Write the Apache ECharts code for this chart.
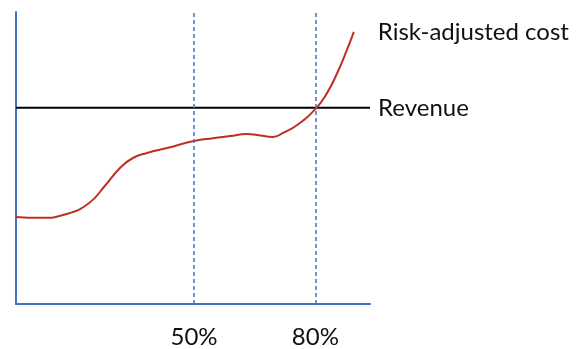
<!DOCTYPE html>
<html>
<head>
<meta charset="utf-8">
<script src="https://cdn.jsdelivr.net/npm/echarts@6/dist/echarts.min.js"></script>
<style>
  html, body { margin: 0; padding: 0; background: #fff; }
  #chart { width: 587px; height: 349px; }
</style>
</head>
<body>
<div id="chart"></div>
<script>
// share of capacity (%) along the x axis
const costX = [6, 11.9, 18.5, 24, 28, 31.7, 34.9, 38.4, 43.3, 50, 54.7, 58.9, 63.1, 65.6, 69.5, 72, 75.5, 80.2, 82.9, 85.4, 87.8, 89.5];
// risk-adjusted cost
const costY = [29.8, 29.5, 30.8, 34.5, 40.5, 46.6, 50, 51.7, 53.4, 55.8, 56.8, 57.5, 58.2, 57.9, 57.2, 58.6, 61.3, 67.1, 72.3, 79.1, 87, 93.2];
const revenueX = [6, 93.5];
const revenueY = [67.2, 67.2];
const markers = [50, 80];

const font = "Lato";
const blue = "#4472C4";

var chart = echarts.init(document.getElementById("chart"));
chart.setOption({
  animation: false,
  grid: { left: 16, right: 217, top: 12, bottom: 45 },
  xAxis: {
    type: "value",
    min: 6,
    max: 93.5,
    axisLine: { show: true, lineStyle: { color: blue, width: 2 } },
    axisTick: { show: false },
    splitLine: { show: false },
    axisLabel: {
      customValues: markers,
      formatter: "{value}%",
      color: "#111",
      fontFamily: font,
      fontSize: 24,
      margin: 21
    }
  },
  yAxis: {
    type: "value",
    min: 0,
    max: 100,
    axisLine: { show: true, lineStyle: { color: blue, width: 2 } },
    axisTick: { show: false },
    splitLine: { show: false },
    axisLabel: { show: false }
  },
  series: [
    {
      name: "Revenue",
      type: "line",
      data: revenueX.map((x, i) => [x, revenueY[i]]),
      symbol: "none",
      lineStyle: { color: "#000", width: 2 },
      endLabel: {
        show: true,
        formatter: "Revenue",
        color: "#111",
        fontFamily: font,
        fontSize: 24,
        distance: 8
      },
      markLine: {
        silent: true,
        symbol: "none",
        label: { show: false },
        lineStyle: { color: blue, type: [4, 3], width: 1.5 },
        data: markers.map((m) => ({ xAxis: m }))
      }
    },
    {
      name: "Risk-adjusted cost",
      type: "line",
      smooth: 0.5,
      data: costX.map((x, i) => [x, costY[i]]),
      symbol: "none",
      lineStyle: { color: "#BE2F25", width: 2 },
      endLabel: {
        show: true,
        formatter: "Risk-adjusted cost",
        color: "#111",
        fontFamily: font,
        fontSize: 24,
        distance: 24
      }
    }
  ]
});
</script>
</body>
</html>
